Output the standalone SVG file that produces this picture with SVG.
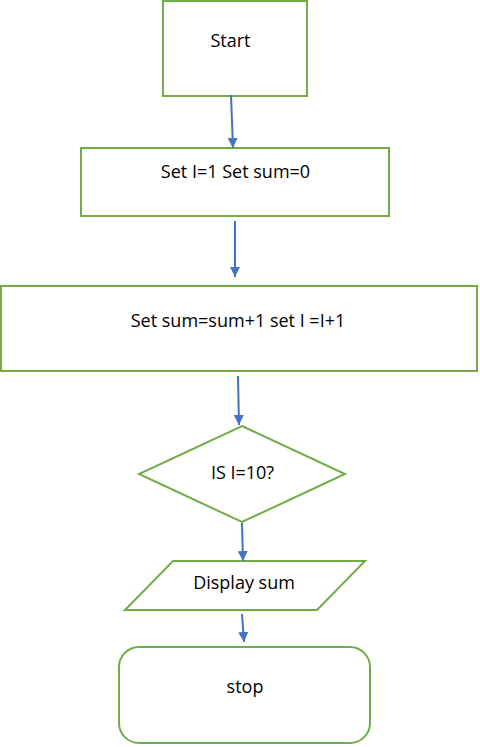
<svg xmlns="http://www.w3.org/2000/svg" width="480" height="747" viewBox="0 0 480 747">
<defs>
<style>
.node{fill:#ffffff;stroke:#70AD47;stroke-width:2}
.lbl{font-family:"Open Sans","Liberation Sans",sans-serif;font-size:18px;fill:#000000;text-anchor:middle}
.conn{stroke:#4472C4;stroke-width:2;fill:none}
</style>
<marker id="ah" viewBox="0 0 10 10" refX="10" refY="5" markerWidth="5" markerHeight="5" markerUnits="strokeWidth" orient="auto">
<path d="M0,0 L10,5 L0,10 z" fill="#4472C4"/>
</marker>
</defs>
<rect width="480" height="747" fill="#ffffff"/>
<g id="start">
<rect class="node" x="163" y="1" width="144" height="95"/>
<text class="lbl" x="230.5" y="47">Start</text>
</g>
<g id="init">
<rect class="node" x="81" y="148" width="308" height="68"/>
<text class="lbl" x="235.5" y="178">Set I=1 Set sum=0</text>
</g>
<g id="update">
<rect class="node" x="1" y="286" width="476" height="85"/>
<text class="lbl" x="238" y="327">Set sum=sum+1 set I =I+1</text>
</g>
<g id="decision">
<polygon class="node" points="242,426 345,474 242,522 139,474"/>
<text class="lbl" x="242.5" y="479">IS I=10?</text>
</g>
<g id="display">
<polygon class="node" points="173,561 365,561 317,610 125,610"/>
<text class="lbl" x="244" y="589">Display sum</text>
</g>
<g id="stop">
<rect class="node" x="119" y="647" width="251" height="96" rx="20" ry="20"/>
<text class="lbl" x="245" y="693">stop</text>
</g>
<g id="connectors">
<line class="conn" x1="231" y1="95" x2="233" y2="148" marker-end="url(#ah)"/>
<line class="conn" x1="235" y1="221" x2="235" y2="277" marker-end="url(#ah)"/>
<line class="conn" x1="238" y1="376" x2="239" y2="425" marker-end="url(#ah)"/>
<line class="conn" x1="242" y1="523" x2="243" y2="561" marker-end="url(#ah)"/>
<line class="conn" x1="242" y1="614" x2="244" y2="642" marker-end="url(#ah)"/>
</g>
</svg>
